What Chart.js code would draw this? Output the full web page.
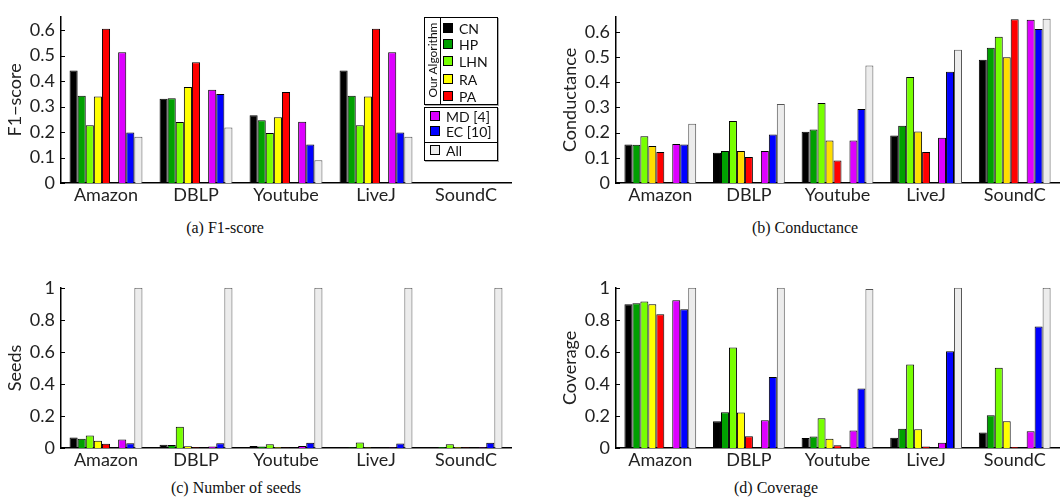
<!DOCTYPE html>
<html>
<head>
<meta charset="utf-8">
<script src="https://cdn.jsdelivr.net/npm/chart.js@4.4.0/dist/chart.umd.min.js"></script>
<style>
  body { margin: 0; background: #fff; width: 1063px; height: 504px; position: relative; overflow: hidden; font-family: Lato, sans-serif; }
  .panel { position: absolute; }
  .cap { position: absolute; font-family: "Liberation Serif", serif; font-size: 16px; color: #111; transform: translateX(-50%); white-space: nowrap; }
  .lbox { position: absolute; border: 1px solid #000; box-shadow: 1px 1px 0 #aaa; background: #fff; }
  .item { position: absolute; font-size: 14px; line-height: 14px; color: #111; white-space: nowrap; }
  .sw { display: inline-block; width: 8px; height: 8px; border: 1px solid #000; margin-right: 6px; vertical-align: 1px; }
</style>
</head>
<body>

<div class="panel" style="left:0;top:0;width:515px;height:210px"><canvas id="f1"></canvas></div>
<div class="panel" style="left:530px;top:0;width:533px;height:210px"><canvas id="cond"></canvas></div>
<div class="panel" style="left:0;top:271px;width:515px;height:204px"><canvas id="seeds"></canvas></div>
<div class="panel" style="left:530px;top:271px;width:533px;height:204px"><canvas id="cov"></canvas></div>

<div class="cap" style="left:225px;top:219px">(a) F1-score</div>
<div class="cap" style="left:805px;top:219px">(b) Conductance</div>
<div class="cap" style="left:236px;top:479px">(c) Number of seeds</div>
<div class="cap" style="left:776px;top:479px">(d) Coverage</div>

<div id="legend"></div>

<script>
// categories and methods
const categories = ["Amazon", "DBLP", "Youtube", "LiveJ", "SoundC"];
const methods = ["CN", "HP", "LHN", "RA", "PA", "MD [4]", "EC [10]", "All"];
const colors = ["#000000", "#00a000", "#77ff00", "#ffff00", "#ff0000", "#dd00ff", "#0000ff", "#ececec"];
const condColors = ["#000000", "#00a000", "#77ff00", "#ffdd00", "#ff0000", "#dd00ff", "#0000ff", "#ececec"];

// (a) F1-score, one row per method
const f1CN  = [0.441, 0.331, 0.266, 0.441, 0];
const f1HP  = [0.342, 0.332, 0.246, 0.342, 0];
const f1LHN = [0.227, 0.239, 0.196, 0.227, 0];
const f1RA  = [0.339, 0.377, 0.258, 0.339, 0];
const f1PA  = [0.605, 0.474, 0.357, 0.605, 0];
const f1MD  = [0.513, 0.366, 0.240, 0.513, 0];
const f1EC  = [0.198, 0.349, 0.151, 0.198, 0];
const f1All = [0.181, 0.218, 0.089, 0.181, 0];

// (b) Conductance
const condCN  = [0.153, 0.120, 0.204, 0.189, 0.489];
const condHP  = [0.152, 0.127, 0.212, 0.227, 0.537];
const condLHN = [0.186, 0.246, 0.318, 0.421, 0.581];
const condRA  = [0.147, 0.127, 0.169, 0.205, 0.499];
const condPA  = [0.123, 0.103, 0.089, 0.123, 0.650];
const condMD  = [0.155, 0.127, 0.169, 0.180, 0.648];
const condEC  = [0.153, 0.193, 0.294, 0.442, 0.612];
const condAll = [0.235, 0.314, 0.467, 0.529, 0.652];

// (c) Number of seeds
const seedCN  = [0.065, 0.021, 0.013, 0.005, 0.005];
const seedHP  = [0.057, 0.019, 0.010, 0.004, 0.007];
const seedLHN = [0.078, 0.133, 0.023, 0.034, 0.024];
const seedRA  = [0.046, 0.011, 0.005, 0.004, 0.005];
const seedPA  = [0.027, 0.004, 0.002, 0.001, 0.003];
const seedMD  = [0.053, 0.009, 0.013, 0.003, 0.004];
const seedEC  = [0.030, 0.029, 0.032, 0.028, 0.032];
const seedAll = [1, 1, 1, 1, 1];

// (d) Coverage
const covCN  = [0.897, 0.167, 0.062, 0.064, 0.097];
const covHP  = [0.903, 0.223, 0.072, 0.120, 0.204];
const covLHN = [0.915, 0.627, 0.186, 0.522, 0.501];
const covRA  = [0.897, 0.221, 0.058, 0.117, 0.167];
const covPA  = [0.835, 0.074, 0.017, 0.010, 0.006];
const covMD  = [0.922, 0.173, 0.109, 0.033, 0.105];
const covEC  = [0.866, 0.443, 0.371, 0.604, 0.759];
const covAll = [1, 1, 0.992, 1, 1];

// tick values
const ticksF1 = [0, 0.1, 0.2, 0.3, 0.4, 0.5, 0.6];
const ticksUnit = [0, 0.2, 0.4, 0.6, 0.8, 1];

// small tick marks pointing into the plot, like the original
const inwardTicks = {
  id: "inwardTicks",
  afterDatasetsDraw(chart) {
    const y = chart.scales.y;
    const ctx = chart.ctx;
    const left = chart.chartArea.left;
    ctx.save();
    ctx.strokeStyle = "#000";
    ctx.lineWidth = 1;
    y.ticks.forEach(t => {
      const py = Math.round(y.getPixelForValue(t.value)) + 0.5;
      ctx.beginPath();
      ctx.moveTo(left, py);
      ctx.lineTo(left + 4, py);
      ctx.stroke();
    });
    ctx.restore();
  }
};

function makePanel(id, series, palette, yTitle, yMax, tickVals, axisW, titlePad) {
  const datasets = [];
  series.forEach((vals, i) => {
    if (i === 5) {
      // empty slot between PA and MD
      datasets.push({ label: "", data: categories.map(() => null) });
    }
    datasets.push({
      label: methods[i],
      data: vals,
      backgroundColor: palette[i],
      borderColor: i === 7 ? "#555" : "#000",
      borderWidth: 1
    });
  });

  new Chart(document.getElementById(id), {
    type: "bar",
    data: { labels: categories, datasets: datasets },
    options: {
      responsive: true,
      maintainAspectRatio: false,
      animation: false,
      layout: { padding: { top: 6, right: 4, left: 0, bottom: 0 } },
      datasets: { bar: { categoryPercentage: 0.81, barPercentage: 1.0 } },
      plugins: { legend: { display: false }, tooltip: { enabled: false } },
      scales: {
        x: {
          grid: { display: false, drawTicks: false },
          border: { display: true, color: "#000", width: 1.5 },
          ticks: { font: { family: "Lato", size: 18 }, color: "#222", padding: 1, maxRotation: 0 },
          afterFit: s => { s.height = 27; }
        },
        y: {
          min: 0,
          max: yMax,
          grid: { display: false, drawTicks: false },
          border: { display: true, color: "#000", width: 1.5 },
          ticks: {
            font: { family: "Lato", size: 18 },
            color: "#222",
            padding: 6,
            callback: v => String(Math.round(v * 10) / 10)
          },
          afterBuildTicks: s => { s.ticks = tickVals.map(v => ({ value: v })); },
          afterFit: s => { s.width = axisW; },
          title: {
            display: true,
            text: yTitle,
            font: { family: "Lato", size: 18 },
            color: "#222",
            padding: { top: titlePad, bottom: 0 }
          }
        }
      }
    },
    plugins: [inwardTicks]
  });
}

makePanel("f1", [f1CN, f1HP, f1LHN, f1RA, f1PA, f1MD, f1EC, f1All], colors, "F1\u2212score", 0.652, ticksF1, 61, 4);
makePanel("cond", [condCN, condHP, condLHN, condRA, condPA, condMD, condEC, condAll], condColors, "Conductance", 0.66, ticksF1, 86, 29);
makePanel("seeds", [seedCN, seedHP, seedLHN, seedRA, seedPA, seedMD, seedEC, seedAll], colors, "Seeds", 1, ticksUnit, 61, 4);
makePanel("cov", [covCN, covHP, covLHN, covRA, covPA, covMD, covEC, covAll], colors, "Coverage", 1, ticksUnit, 86, 29);

// legend for panel (a), built as html
const legend = document.getElementById("legend");
legend.innerHTML =
  '<div class="lbox" style="left:424px;top:17px;width:72px;height:86px"></div>' +
  '<div style="position:absolute;left:440px;top:17px;width:1px;height:87px;background:#000"></div>' +
  '<div style="position:absolute;left:432px;top:60px;font-size:12px;color:#111;white-space:nowrap;transform:translate(-50%,-50%) rotate(-90deg)">Our Algorithm</div>' +
  '<div class="lbox" style="left:424px;top:107px;width:72px;height:52px"></div>' +
  '<div style="position:absolute;left:425px;top:142px;width:72px;height:1px;background:#000"></div>';

const rowY = [29, 45, 62, 80, 97, 117, 132, 151];
methods.forEach((m, i) => {
  const d = document.createElement("div");
  d.className = "item";
  d.style.left = (i < 5 ? 443 : 430) + "px";
  d.style.top = (rowY[i] - 7) + "px";
  d.innerHTML = '<span class="sw" style="background:' + colors[i] + '"></span>' + m;
  legend.appendChild(d);
});
</script>
</body>
</html>
